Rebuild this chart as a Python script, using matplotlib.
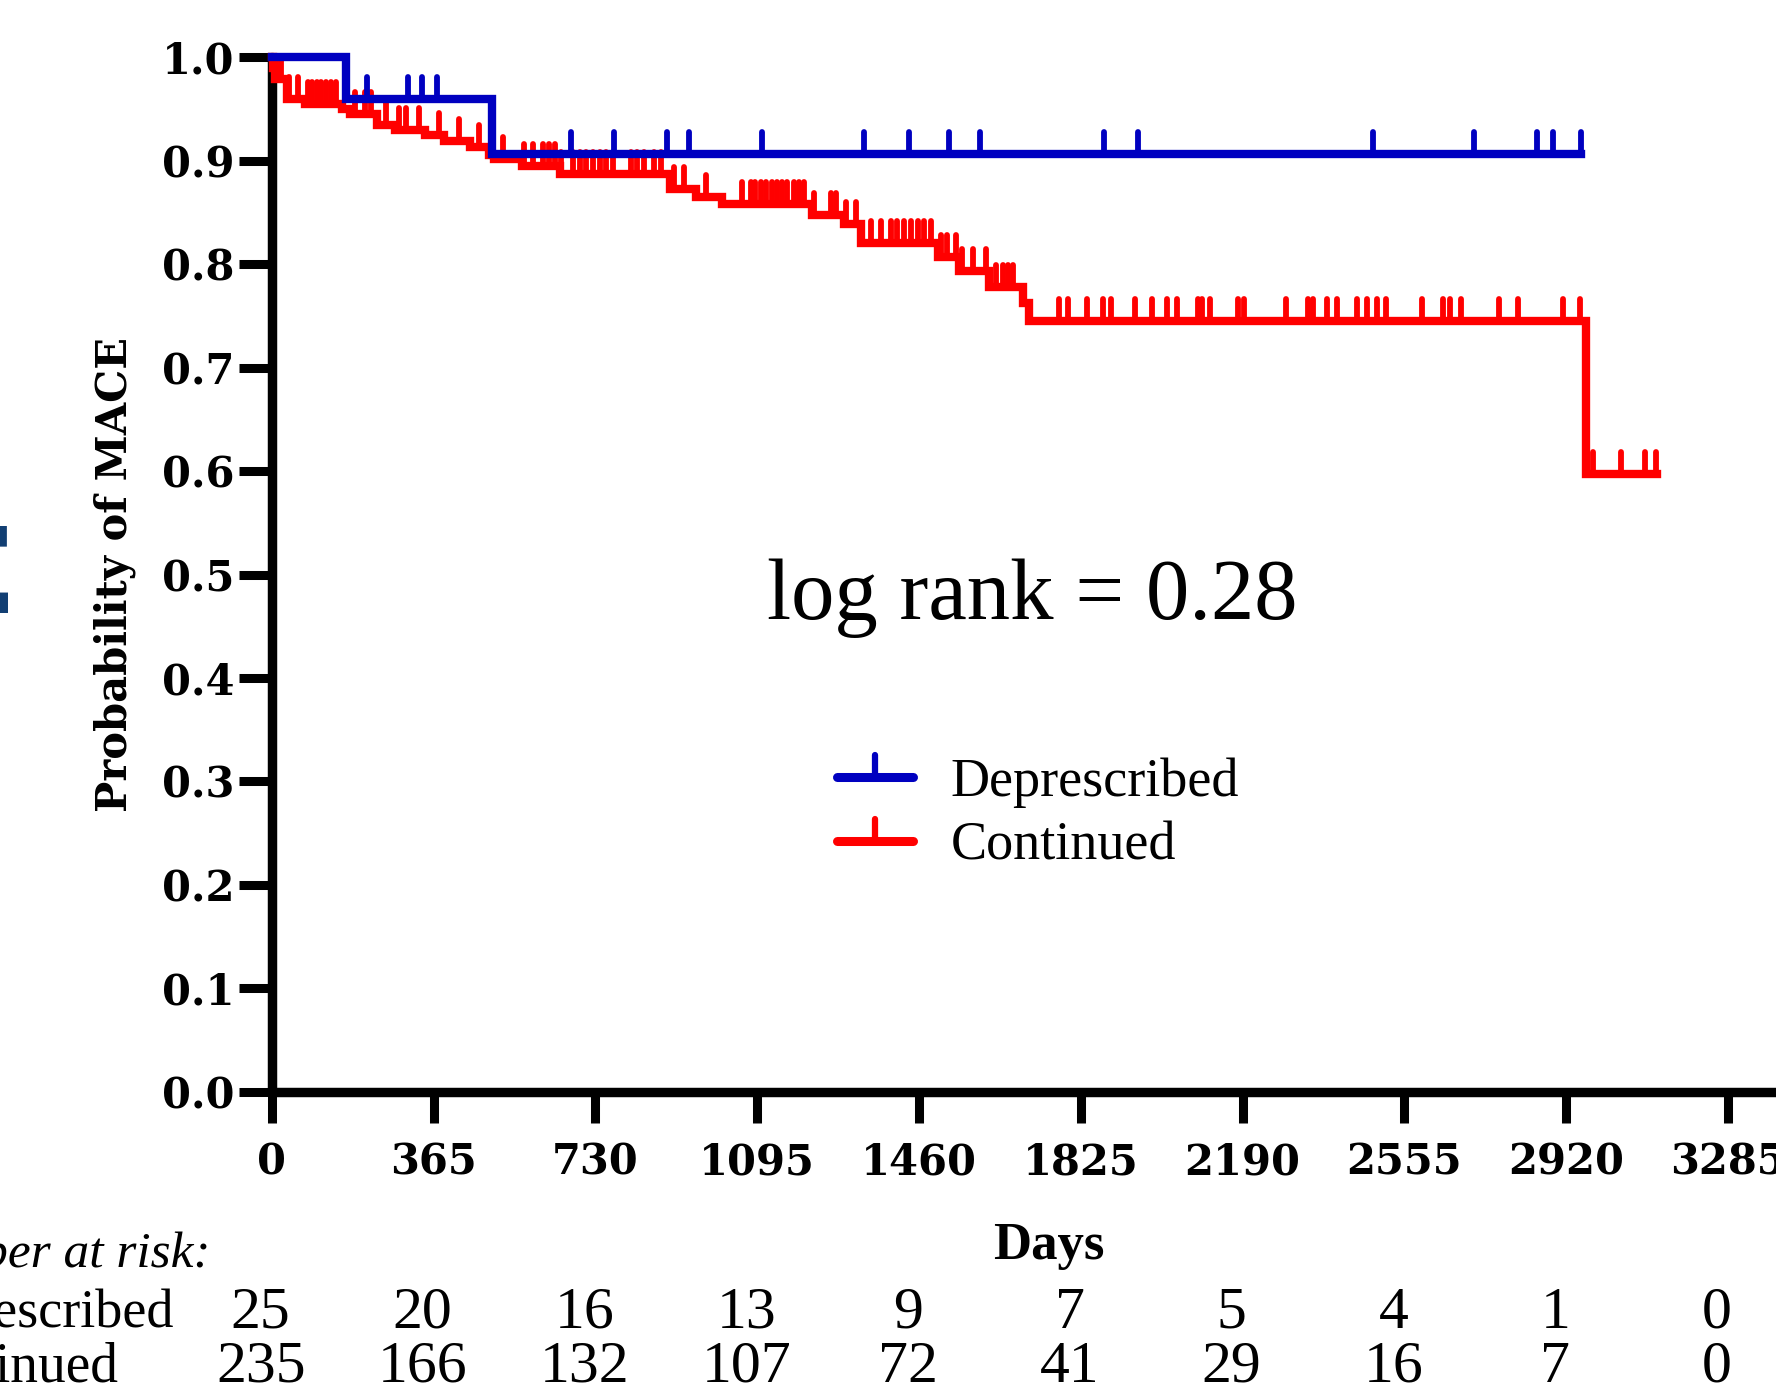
import numpy as np
import matplotlib
matplotlib.use("Agg")
import matplotlib.pyplot as plt
from matplotlib.path import Path
from matplotlib.markers import MarkerStyle
from matplotlib.lines import Line2D
import matplotlib.transforms as mtransforms

# ---------------- data ----------------
blue_times = [0, 168, 498]
blue_surv = [1.0, 0.96, 0.9067]
blue_end = 2953
blue_censor = [215, 308, 340, 373, 674, 771, 892, 942, 1107, 1335, 1437, 1527,
               1597, 1877, 1954, 2485, 2711, 2855, 2891, 2953]

red_times = [0, 3, 7, 34, 75, 158, 177, 237, 278, 346, 388, 448, 489, 501, 565,
             651, 899, 956, 1016, 1219, 1291, 1329, 1502, 1551, 1618, 1694, 1709, 2965]
red_surv = [1.0, 0.99, 0.979, 0.960, 0.955, 0.950, 0.945, 0.935, 0.930, 0.925,
            0.919, 0.913, 0.906, 0.902, 0.895, 0.8875, 0.873, 0.865, 0.858, 0.848,
            0.839, 0.820, 0.807, 0.793, 0.778, 0.762, 0.745, 0.597]
red_end = 3125
red_censor = [10, 22, 40, 60, 83, 92, 102, 112, 122, 133, 145, 188, 210, 225,
              258, 288, 303, 333, 378, 423, 468, 521, 570, 589, 611, 625, 640, 652,
              679, 695, 710, 725, 740, 755, 770, 810, 825, 840, 862, 877, 907, 930,
              979, 1061, 1080, 1091, 1103, 1114, 1129, 1140, 1152, 1163, 1178, 1189,
              1201, 1223, 1261, 1272, 1295, 1317, 1351, 1374, 1396, 1411, 1427, 1441,
              1457, 1472, 1487, 1509, 1524, 1543, 1558, 1581, 1611, 1633, 1649, 1660,
              1671, 1776, 1796, 1839, 1875, 1892, 1947, 1986, 2020, 2041, 2090, 2098,
              2117, 2179, 2194, 2287, 2338, 2348, 2381, 2403, 2448, 2470, 2492, 2514,
              2594, 2641, 2658, 2683, 2769, 2811, 2913, 2950, 2981, 3044, 3097, 3122]

x_ticks = [0, 365, 730, 1095, 1460, 1825, 2190, 2555, 2920, 3285]
y_ticks = [0.0, 0.1, 0.2, 0.3, 0.4, 0.5, 0.6, 0.7, 0.8, 0.9, 1.0]
risk_depr = [25, 20, 16, 13, 9, 7, 5, 4, 1, 0]
risk_cont = [235, 166, 132, 107, 72, 41, 29, 16, 7, 0]
series_names = ["Deprescribed", "Continued"]

BLUE = "#0000c0"
RED = "#ff0000"

# ---------------- figure ----------------
W, H = 1776, 1397
fig = plt.figure(figsize=(W / 100, H / 100), dpi=100)
ax = fig.add_axes([271.7 / W, 305.3 / H, (W - 271.7) / W, (1339.7 - 305.3) / H])

tick_marker = MarkerStyle(Path([(0, 0), (0, 1)]), capstyle="round")

def km(times, surv, end, censor, color, z):
    xs = list(times) + [end]
    ys = list(surv) + [surv[-1]]
    ax.step(xs, ys, where="post", color=color, lw=6, clip_on=False, zorder=z,
            solid_joinstyle="miter")
    idx = np.searchsorted(np.array(times), np.array(censor), side="right") - 1
    cy = np.array(surv)[idx]
    ax.plot(censor, cy, linestyle="none", marker=tick_marker, ms=32, mew=4.2,
            mec=color, mfc="none", clip_on=False, zorder=z)

km(red_times, red_surv, red_end, red_censor, RED, 3)
km(blue_times, blue_surv, blue_end, blue_censor, BLUE, 4)

ax.set_xlim(0, 3393)
ax.set_ylim(0, 1.0)
ax.set_xticks(x_ticks)
ax.set_xticklabels([str(v) for v in x_ticks])
ax.set_yticks(y_ticks)
ax.set_yticklabels([f"{v:.1f}" for v in y_ticks])
for s in ["top", "right"]:
    ax.spines[s].set_visible(False)
for s in ["left", "bottom"]:
    ax.spines[s].set_linewidth(6.8)
    ax.spines[s].set_capstyle("round")
ax.tick_params(axis="y", direction="out", length=24, width=6.5, pad=3)
ax.tick_params(axis="x", direction="out", length=22, width=6.5, pad=14)
for lab in ax.get_xticklabels() + ax.get_yticklabels():
    lab.set_fontfamily("DejaVu Serif")
    lab.set_fontweight("bold")
    lab.set_fontsize(30)

# y label
fig.text(115 / W, 1 - 575 / H, "Probability of MACE", rotation=90, ha="center",
         va="center", fontsize=30, fontweight="bold", family="DejaVu Serif")
# x label
fig.text(1049 / W, 1 - 1246 / H, "Days", ha="center", va="center", fontsize=38,
         fontweight="bold", family="Liberation Serif")

# log rank annotation
fig.text(1032 / W, 1 - 619 / H, "log rank = 0.28", ha="center", va="baseline",
         fontsize=62.5, family="Liberation Serif")

# legend
handles = [Line2D([0], [0], color=BLUE, lw=6.5, marker=tick_marker, ms=32, mew=4.5,
                  mec=BLUE, mfc="none", solid_capstyle="round"),
           Line2D([0], [0], color=RED, lw=6.5, marker=tick_marker, ms=32, mew=4.5,
                  mec=RED, mfc="none", solid_capstyle="round")]
leg = fig.legend(handles, series_names, loc="upper left",
                 bbox_to_anchor=(837 / W, 1 - 757 / H), frameon=False,
                 borderpad=0, borderaxespad=0, handlelength=1.4,
                 handletextpad=0.7, labelspacing=0.25,
                 prop={"family": "Liberation Serif", "size": 39})

# number at risk table
trans = mtransforms.blended_transform_factory(ax.transData, fig.transFigure)
off = mtransforms.ScaledTranslation(-11 / 100, 0, fig.dpi_scale_trans)
for xv, a, b in zip(x_ticks, risk_depr, risk_cont):
    fig.text(xv, 1 - 1314 / H, str(a), transform=trans + off, ha="center",
             va="center", fontsize=43, family="Liberation Serif")
    fig.text(xv, 1 - 1368 / H, str(b), transform=trans + off, ha="center",
             va="center", fontsize=43, family="Liberation Serif")

fig.text(211 / W, 1 - 1255 / H, "Number at risk:", ha="right", va="center",
         fontsize=37, style="italic", family="Liberation Serif")
fig.text(174 / W, 1 - 1314 / H, "Deprescribed", ha="right", va="center",
         fontsize=39, family="Liberation Serif")
fig.text(119 / W, 1 - 1368 / H, "Continued", ha="right", va="center",
         fontsize=40, family="Liberation Serif")

# cropped panel letter at the left edge
fig.text(14 / W, 1 - 580 / H, "E", ha="right", va="center", fontsize=86,
         fontweight="bold", family="DejaVu Serif", color="#123f73")

fig.savefig("out.png", dpi=100)
